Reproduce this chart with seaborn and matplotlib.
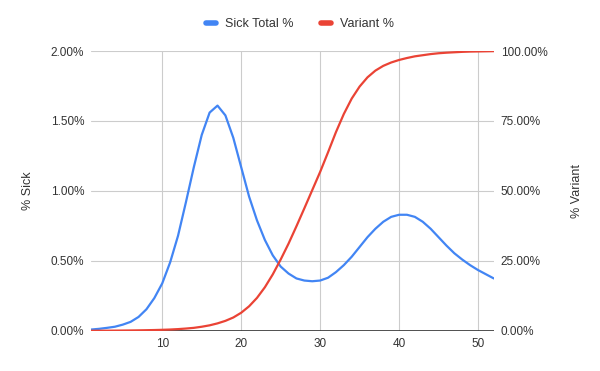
import pandas as pd
import matplotlib.pyplot as plt
import seaborn as sns
from matplotlib.ticker import PercentFormatter
from matplotlib.lines import Line2D

# weekly values (percent)
weeks = list(range(1, 53))
sick_total = [0.01, 0.015, 0.022, 0.03, 0.045, 0.065, 0.10, 0.155, 0.235, 0.34,
              0.49, 0.68, 0.92, 1.17, 1.40, 1.56, 1.61, 1.54, 1.38, 1.17,
              0.96, 0.79, 0.65, 0.54, 0.46, 0.41, 0.375, 0.36, 0.355, 0.36,
              0.38, 0.42, 0.47, 0.53, 0.60, 0.67, 0.73, 0.78, 0.815, 0.83,
              0.83, 0.815, 0.78, 0.73, 0.67, 0.61, 0.555, 0.51, 0.47, 0.435,
              0.405, 0.375]
variant = [0.05, 0.07, 0.09, 0.11, 0.14, 0.17, 0.21, 0.26, 0.32, 0.4,
           0.5, 0.65, 0.85, 1.1, 1.5, 2.0, 2.7, 3.6, 4.8, 6.5,
           8.8, 11.8, 15.6, 20.2, 25.5, 31.2, 37.4, 43.8, 50.3, 56.8,
           63.8, 71.0, 77.5, 83.0, 87.3, 90.6, 93.0, 94.7, 95.9, 96.8,
           97.5, 98.1, 98.5, 98.9, 99.2, 99.4, 99.55, 99.7, 99.8, 99.85,
           99.9, 99.95]

df = pd.DataFrame({'week': weeks, 'sick': sick_total, 'variant': variant})

blue = '#4285F4'
red = '#EA4335'
txt = '#333333'

sns.set_theme(style="white")
plt.rcParams['font.family'] = ['Liberation Sans', 'DejaVu Sans']

fig = plt.figure(figsize=(6, 3.71), dpi=100)
ax = fig.add_axes([0.152, 0.108, 0.671, 0.7545])
ax2 = ax.twinx()

sns.lineplot(data=df, x='week', y='sick', color=blue, linewidth=1.6, ax=ax)
sns.lineplot(data=df, x='week', y='variant', color=red, linewidth=1.6, ax=ax2)

ax.set_xlim(1, 52)
ax.set_ylim(0, 2)
ax2.set_ylim(0, 100)
ax.set_xticks([10, 20, 30, 40, 50])
ax.set_yticks([0, 0.5, 1.0, 1.5, 2.0])
ax2.set_yticks([0, 25, 50, 75, 100])
ax.yaxis.set_major_formatter(PercentFormatter(100, decimals=2))
ax2.yaxis.set_major_formatter(PercentFormatter(100, decimals=2))

ax.grid(True, color='#cccccc', linewidth=0.8)
ax.set_axisbelow(True)
for a in (ax, ax2):
    for s in ['top', 'right', 'left', 'bottom']:
        a.spines[s].set_visible(False)
    a.tick_params(length=0, labelsize=8.5, colors=txt, pad=5)
ax.axhline(0, color='#333333', linewidth=1.2, zorder=5)

ax.set_xlabel('')
ax.set_ylabel('% Sick', fontsize=9, color=txt, labelpad=12)
ax2.set_ylabel('% Variant', fontsize=9, color=txt, labelpad=17)

handles = [Line2D([], [], color=blue, linewidth=4),
           Line2D([], [], color=red, linewidth=4)]
fig.legend(handles, ['Sick Total %', 'Variant %'], loc='center',
           bbox_to_anchor=(0.5, 0.935), ncol=2, frameon=False,
           fontsize=9, handlelength=0.8, handletextpad=0.7, columnspacing=2.2,
           labelcolor=txt)

plt.savefig('out.png', dpi=100)
plt.close()
